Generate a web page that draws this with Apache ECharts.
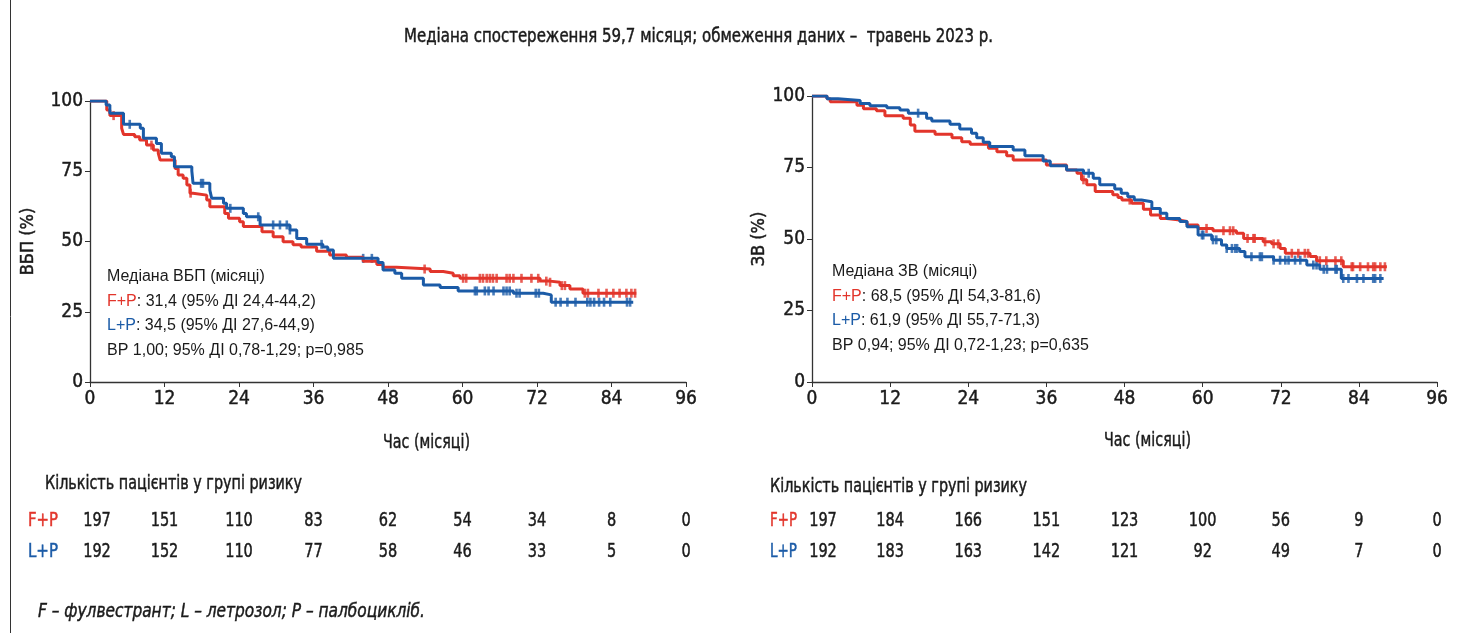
<!DOCTYPE html>
<html>
<head>
<meta charset="utf-8">
<script src="https://cdn.jsdelivr.net/npm/echarts@6/dist/echarts.min.js"></script>
<style>
  html, body { margin: 0; padding: 0; background: #fff; }
  #c { width: 1474px; height: 633px; }
</style>
</head>
<body>
<div id="c"></div>
<script>
// ---- Kaplan–Meier step points [month, % event-free] ----
const pfsFP = [[0,100],[2.7,96.8],[3.2,94.8],[5.1,90.3],[5.4,88.1],[7.2,87.3],[8.0,86.1],[9.1,84.3],[10.2,82.6],[11.0,81.4],[11.3,79.0],[13.7,76.0],[14.2,73.7],[15.0,72.5],[15.6,70.1],[16.1,67.2],[16.6,66.5],[18.8,64.8],[19.3,62.4],[21.7,60.0],[22.3,58.3],[24.1,57.0],[24.7,55.3],[27.7,53.5],[29.5,51.7],[31.1,49.9],[32.7,48.8],[34.0,48.0],[36.5,46.5],[38.6,45.2],[41.3,44.4],[44.0,43.0],[46.2,41.8],[47.2,40.8],[49.4,40.2],[54.8,39.3],[56.9,38.7],[58.5,37.8],[59.6,36.9],[72.5,35.9],[74.1,35.5],[75.7,34.3],[77.3,33.1],[79.4,31.6],[88.0,31.6]];
const pfsLP = [[0,100],[2.6,98.6],[3.2,95.6],[5.4,91.7],[8.1,90.3],[8.6,86.7],[10.7,84.9],[11.5,81.4],[13.1,80.2],[13.6,76.6],[16.4,75.1],[16.6,70.7],[19.3,68.3],[19.6,65.4],[21.5,63.6],[22.0,61.8],[24.7,60.0],[25.2,58.8],[27.4,55.9],[32.2,54.1],[33.3,51.1],[34.9,49.0],[37.5,48.0],[38.3,47.0],[39.2,44.0],[46.4,42.5],[47.2,39.9],[49.1,38.7],[50.2,36.9],[53.7,34.5],[56.4,33.6],[59.3,32.4],[68.2,31.6],[73.0,31.0],[74.3,28.4],[87.5,28.4]];
const osFP = [[0,100],[2.3,99.0],[2.8,98.0],[6.9,96.8],[7.9,95.5],[9.9,94.8],[11.2,93.1],[14.0,92.2],[15.1,89.9],[15.8,87.7],[18.9,86.6],[21.5,85.4],[23.0,84.0],[24.3,83.1],[27.1,81.7],[28.4,80.5],[29.9,79.1],[30.9,77.6],[36.0,75.9],[39.1,74.1],[40.7,73.0],[41.4,70.7],[42.2,69.0],[43.5,66.6],[46.2,65.5],[47.0,64.5],[47.6,63.6],[49.1,62.5],[50.9,60.4],[52.0,58.4],[53.5,57.2],[54.5,56.6],[56.5,56.1],[57.6,54.9],[59.3,53.7],[61.6,52.9],[65.2,52.0],[66.3,50.2],[69.3,49.0],[70.6,48.3],[71.9,46.7],[72.7,45.0],[76.5,43.9],[77.5,42.4],[81.6,40.3],[88.3,40.3]];
const osLP = [[0,100],[2.3,99.0],[4.0,98.4],[7.4,97.4],[8.9,96.6],[11.5,95.9],[13.5,95.1],[14.8,94.0],[17.6,92.2],[18.4,91.3],[21.2,90.1],[22.7,88.5],[24.5,87.0],[25.3,85.4],[26.3,83.8],[27.3,82.3],[30.9,81.1],[32.7,79.1],[35.5,77.3],[36.6,75.6],[39.1,74.1],[41.7,73.0],[43.2,71.2],[44.2,69.0],[46.5,67.5],[47.5,66.0],[48.5,64.8],[49.5,63.6],[50.6,63.0],[52.2,60.7],[53.5,59.0],[54.5,57.2],[56.5,56.1],[57.6,54.3],[59.3,51.4],[61.4,49.7],[62.9,47.9],[63.7,46.7],[65.7,45.6],[66.5,43.8],[70.9,42.6],[76.0,40.9],[78.0,39.4],[81.3,36.2],[87.8,36.2]];

// ---- censoring times (months) ----
const pfsFPCens = [3.8,9.9,16.2,53.9,60.1,60.6,62.8,63.3,63.9,64.4,64.9,65.5,67.1,67.6,68.2,69.5,71.1,72.2,73.5,74.1,76.0,76.5,79.7,80.2,81.9,83.2,84.3,85.3,86.4,87.2,87.8];
const pfsLPCens = [6.4,17.9,18.2,22.6,27.1,29.5,30.6,31.7,32.2,37.3,44.0,45.4,62.0,62.3,63.6,64.2,65.0,66.6,67.1,67.6,68.7,69.2,71.8,72.3,75.0,75.8,76.9,78.2,80.1,80.6,81.2,82.0,82.8,83.8,86.5,87.0];
const osFPCens = [41.7,48.8,60.6,63.2,64.2,64.7,66.9,67.8,68.0,69.6,70.9,71.6,73.7,74.7,75.7,76.2,78.0,79.0,80.4,81.3,82.9,83.1,84.2,85.4,86.2,86.5,87.3,88.0];
const osLPCens = [16.3,42.5,59.9,60.1,61.6,62.1,63.7,64.5,65.0,65.3,67.5,68.8,69.1,70.9,71.9,72.7,73.2,74.2,75.0,77.0,77.5,78.6,79.1,80.4,80.6,81.6,82.4,83.7,84.7,86.2,86.5,87.3];

// ---- axes and numbers at risk ----
const monthTicks = [0, 12, 24, 36, 48, 60, 72, 84, 96];
const riskPfsFP = [197, 151, 110, 83, 62, 54, 34, 8, 0];
const riskPfsLP = [192, 152, 110, 77, 58, 46, 33, 5, 0];
const riskOsFP = [197, 184, 166, 151, 123, 100, 56, 9, 0];
const riskOsLP = [192, 183, 163, 142, 121, 92, 49, 7, 0];

const pfsStats = ['Медіана ВБП (місяці)', ': 31,4 (95% ДІ 24,4-44,2)', ': 34,5 (95% ДІ 27,6-44,9)', 'ВР 1,00; 95% ДІ 0,78-1,29; p=0,985'];
const osStats = ['Медіана ЗВ (місяці)', ': 68,5 (95% ДІ 54,3-81,6)', ': 61,9 (95% ДІ 55,7-71,3)', 'ВР 0,94; 95% ДІ 0,72-1,23; p=0,635'];

const RED = '#e2352b';
const BLUE = '#1b5ba7';
const INK = '#1a1a1a';
const NARROW = "'Liberation Sans Narrow', 'Arial Narrow', 'DejaVu Sans Condensed', sans-serif";
const REG = "'Liberation Sans', Arial, sans-serif";
// a hairline outline in the text colour gives the condensed labels a medium weight
const HEAVY = 0.45;

function survAt(curve, t) {
  let s = curve[0][1];
  for (const [x, y] of curve) { if (x <= t) s = y; else break; }
  return s;
}

function xAxisCfg(gi) {
  return {
    type: 'value', gridIndex: gi, min: 0, max: 96, interval: 12,
    axisLine: { lineStyle: { color: '#333', width: 1.3 } },
    axisTick: { length: 5, lineStyle: { color: '#333' } },
    axisLabel: { margin: 8, color: INK, fontSize: 19, fontFamily: NARROW, textBorderColor: INK, textBorderWidth: HEAVY },
    splitLine: { show: false }
  };
}
function yAxisCfg(gi, name, gap) {
  return {
    type: 'value', gridIndex: gi, min: 0, max: 100, interval: 25,
    axisLine: { show: true, lineStyle: { color: '#333', width: 1.3 } },
    axisTick: { show: true, length: 5, lineStyle: { color: '#333' } },
    axisLabel: { margin: 7, color: INK, fontSize: 19, fontFamily: NARROW, textBorderColor: INK, textBorderWidth: HEAVY },
    splitLine: { show: false },
    name: name, nameLocation: 'middle', nameGap: gap, nameRotate: 90,
    nameTextStyle: { color: INK, fontSize: 18, fontFamily: NARROW, textBorderColor: INK, textBorderWidth: HEAVY }
  };
}
function curveSeries(gi, data, color) {
  return {
    type: 'line', xAxisIndex: gi, yAxisIndex: gi, step: 'end', data: data,
    symbol: 'none', silent: true, animation: false,
    lineStyle: { color: color, width: 3 }
  };
}
function censorSeries(gi, curve, times, color) {
  return {
    type: 'scatter', xAxisIndex: gi, yAxisIndex: gi,
    data: times.map(t => [t, survAt(curve, t)]),
    symbol: 'rect', symbolSize: [2.6, 9], silent: true, animation: false,
    itemStyle: { color: color }
  };
}

const chart = echarts.init(document.getElementById('c'), null, { renderer: 'canvas' });
chart.setOption({
  animation: false,
  backgroundColor: '#fff',
  grid: [
    { left: 90, top: 101, width: 596, height: 281, outerBoundsMode: 'none' },
    { left: 812, top: 96, width: 625, height: 286, outerBoundsMode: 'none' }
  ],
  xAxis: [xAxisCfg(0), xAxisCfg(1)],
  yAxis: [yAxisCfg(0, 'ВБП (%)', 53), yAxisCfg(1, 'ЗВ (%)', 35)],
  series: [
    curveSeries(0, pfsFP, RED), censorSeries(0, pfsFP, pfsFPCens, RED),
    curveSeries(0, pfsLP, BLUE), censorSeries(0, pfsLP, pfsLPCens, BLUE),
    curveSeries(1, osFP, RED), censorSeries(1, osFP, osFPCens, RED),
    curveSeries(1, osLP, BLUE), censorSeries(1, osLP, osLPCens, BLUE)
  ]
});

// ---- text helpers; condensed labels are squeezed horizontally to the set width ----
const measureCtx = document.createElement('canvas').getContext('2d');
function widthOf(text, font) { measureCtx.font = font; return measureCtx.measureText(text).width; }

function txt(x, y, text, font, extra) {
  return {
    type: 'text', silent: true,
    style: Object.assign({ x: x, y: y, text: text, font: font, fill: INK, verticalAlign: 'middle', align: 'left' }, extra || {})
  };
}
function ctxt(x, y, text, font, width, extra) {
  const k = width / widthOf(text, font);
  const fill = (extra && extra.fill) || INK;
  return {
    type: 'text', silent: true, x: x, y: y, scaleX: k,
    style: Object.assign({ x: 0, y: 0, text: text, font: font, fill: fill, stroke: fill, lineWidth: HEAVY, verticalAlign: 'middle', align: 'left' }, extra || {})
  };
}
function statsBlock(x, y0, lines) {
  const f = '16px ' + REG;
  const rich = { r: { fill: RED, font: f }, b: { fill: BLUE, font: f } };
  return [
    txt(x, y0, lines[0], f),
    txt(x, y0 + 24.5, '{r|F+P}' + lines[1], f, { rich: rich }),
    txt(x, y0 + 49, '{b|L+P}' + lines[2], f, { rich: rich }),
    txt(x, y0 + 73.5, lines[3], f)
  ];
}
function riskBlock(gi, labelX, headerX, headerY, labelW, rowFP, rowLP, firstShift) {
  const f = '19px ' + NARROW;
  const numScale = 0.85;
  const out = [
    ctxt(headerX, headerY, 'Кількість пацієнтів у групі ризику', '19px ' + NARROW, 257),
    ctxt(labelX, 521, 'F+P', f, labelW, { fill: RED }),
    ctxt(labelX, 552, 'L+P', f, labelW, { fill: BLUE })
  ];
  monthTicks.forEach((m, i) => {
    const cx = chart.convertToPixel({ xAxisIndex: gi }, m) + (i === 0 ? firstShift : 0);
    [[521, rowFP[i]], [552, rowLP[i]]].forEach(([y, v]) => {
      out.push({
        type: 'text', silent: true, x: cx, y: y, scaleX: numScale,
        style: { x: 0, y: 0, text: String(v), font: f, fill: INK, stroke: INK, lineWidth: HEAVY, verticalAlign: 'middle', align: 'center' }
      });
    });
  });
  return out;
}

const titleText = 'Медіана спостереження 59,7 місяця; обмеження даних –  травень 2023 р.';
const titleFont = '19px ' + NARROW;
const timeFont = '20px ' + NARROW;
const footText = 'F – фулвестрант; L – летрозол; P – палбоцикліб.';
const footFont = 'italic 19px ' + NARROW;

const graphics = [
  { type: 'line', silent: true, shape: { x1: 10.5, y1: 0, x2: 10.5, y2: 633 }, style: { stroke: '#333', lineWidth: 1 } },
  ctxt(404, 37, titleText, titleFont, 589),
  ctxt(383, 443, 'Час (місяці)', timeFont, 87),
  ctxt(1104, 441, 'Час (місяці)', timeFont, 87),
  ...statsBlock(107, 277, pfsStats),
  ...statsBlock(832, 272, osStats),
  ...riskBlock(0, 28, 45, 484, 30, riskPfsFP, riskPfsLP, 7),
  ...riskBlock(1, 770, 770, 487, 27, riskOsFP, riskOsLP, 11),
  ctxt(38, 612, footText, footFont, 387)
];
chart.setOption({ graphic: graphics });
</script>
</body>
</html>
